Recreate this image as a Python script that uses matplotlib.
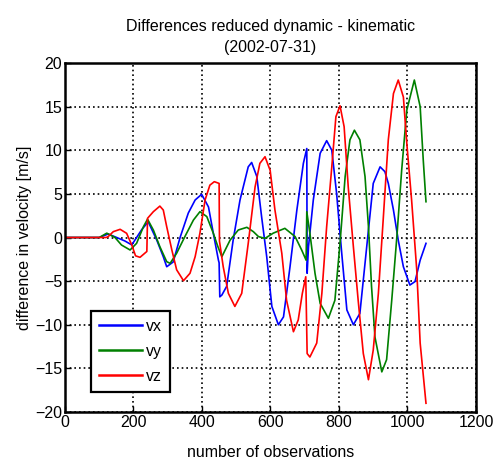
import numpy as np
import matplotlib
matplotlib.use("Agg")
import matplotlib.pyplot as plt

plt.rcParams['font.family'] = ['Liberation Sans', 'DejaVu Sans']
plt.rcParams['font.size'] = 11.5

vx_x = [0, 100, 126, 151, 175, 195, 224, 243, 268, 287, 297, 316, 336, 360, 380, 399,
        419, 433, 448, 450, 452, 458, 472, 491, 511, 535, 545, 560, 574, 589, 604, 623,
        638, 657, 677, 696, 706, 707, 711, 725, 745, 764, 779, 793, 808, 823, 842, 861,
        881, 900, 920, 934, 944, 959, 973, 988, 1007, 1022, 1037, 1054]
vx_y = [0, 0, 0.4, 0, -0.4, -0.85, 0.9, 1.8, -0.3, -2.2, -3.35, -2.8, 0, 2.8, 4.3, 4.95,
        3.5, 0.5, -2.6, -2.9, -6.8, -6.6, -5.6, -0.3, 4.3, 8.1, 8.6, 7.0, 2.4, -2.2, -7.9, -10.0,
        -9.1, -3.35, 3.15, 8.5, 10.2, -4.1, -1.05, 4.3, 9.65, 11.1, 10.0, 5.07, -1.8, -8.3, -10.0, -8.7,
        -1.05, 6.2, 8.1, 7.55, 6.2, 3.15, -0.3, -3.35, -5.45, -5.05, -2.6, -0.67]

vy_x = [0, 100, 122, 146, 165, 190, 209, 229, 241, 258, 277, 297, 307, 326, 350, 375,
        394, 414, 433, 446, 458, 482, 506, 531, 550, 565, 584, 608, 642, 672, 691, 704,
        706, 715, 730, 745, 769, 788, 803, 818, 832, 845, 861, 876, 886, 895, 905, 925,
        939, 954, 969, 983, 998, 1020, 1037, 1046, 1054]
vy_y = [0, 0, 0.5, 0, -0.86, -1.43, -0.67, 1.24, 2.1, 0.86, -1.05, -2.77, -2.96, -1.8, 0.1, 2.0,
        2.96, 2.4, 0.5, -1.0, -2.2, -0.3, 0.86, 1.17, 0.67, 0.1, -0.1, 0.5, 1.05, 0.1, -1.43, -2.6,
        2.96, 0.5, -4.1, -7.55, -9.26, -7.2, -0.67, 7.0, 11.2, 12.3, 11.2, 7.0, 1.24, -5.6, -11.4, -15.4,
        -14.0, -7.2, 0.1, 7.7, 14.6, 18.05, 15.0, 8.9, 4.1]

vz_x = [0, 120, 126, 141, 161, 180, 195, 206, 219, 239, 241, 258, 277, 287, 297, 312,
        326, 346, 365, 380, 394, 409, 423, 436, 450, 451, 462, 477, 496, 516, 535, 555,
        569, 584, 599, 613, 633, 647, 667, 681, 693, 703, 707, 715, 735, 750, 764, 779,
        791, 803, 815, 827, 842, 856, 871, 886, 900, 915, 929, 944, 959, 973, 988, 998,
        1012, 1027, 1037, 1054]
vz_y = [0, 0, 0.1, 0.67, 0.94, 0.48, -0.86, -2.1, -2.27, -1.6, 2.2, 2.96, 3.6, 3.15, 1.24, -1.43,
        -3.7, -4.95, -4.1, -2.2, 0.5, 4.3, 6.0, 6.4, 6.2, -0.4, -3.35, -6.4, -7.9, -6.4, -0.67, 5.8,
        8.5, 9.26, 7.7, 3.15, -1.8, -7.2, -10.8, -9.45, -6.4, -4.5, -13.3, -13.7, -12.1, -6.4, 1.24, 8.1,
        13.85, 15.1, 12.7, 5.8, -1.05, -7.2, -13.3, -16.3, -12.9, -6.4, 2.0, 11.2, 16.5, 18.05, 16.1, 10.8,
        4.3, -3.7, -12.1, -19.0]

fig = plt.figure(figsize=(4.98, 4.59), dpi=100)
ax = fig.add_axes([0.1305, 0.1024, 0.8253, 0.7603])

ax.plot(vx_x, vx_y, color=(0, 0, 1), lw=1.2, label='vx')
ax.plot(vy_x, vy_y, color=(0, 0.5, 0), lw=1.2, label='vy')
ax.plot(vz_x, vz_y, color=(1, 0, 0), lw=1.2, label='vz')

ax.set_xlim(0, 1200)
ax.set_ylim(-20, 20)
ax.set_xticks(np.arange(0, 1201, 200))
ax.set_yticks(np.arange(-20, 21, 5))
ax.grid(True, color='black', linestyle=(0, (1, 1.8)), linewidth=1.2)
ax.tick_params(direction='in', length=4, width=1, colors='black', labelsize=11.5, pad=2)
for s in ax.spines.values():
    s.set_linewidth(1.8)

ax.set_xlabel('number of observations', fontsize=11.5, labelpad=11)
ax.set_ylabel('difference in velocity [m/s]', fontsize=11.5, labelpad=2)
ax.set_title('Differences reduced dynamic - kinematic\n(2002-07-31)', fontsize=11.5,
             pad=8, linespacing=1.5)

leg = ax.legend(loc='lower left', bbox_to_anchor=(0.063, 0.058), borderaxespad=0,
                fancybox=False, framealpha=1, edgecolor='black', fontsize=11.5,
                handlelength=2.7, handletextpad=0.25, labelspacing=0.62, borderpad=0.5)
leg.get_frame().set_linewidth(1.6)
for line in leg.get_lines():
    line.set_linewidth(1.8)

fig.savefig('out.png', dpi=100)
